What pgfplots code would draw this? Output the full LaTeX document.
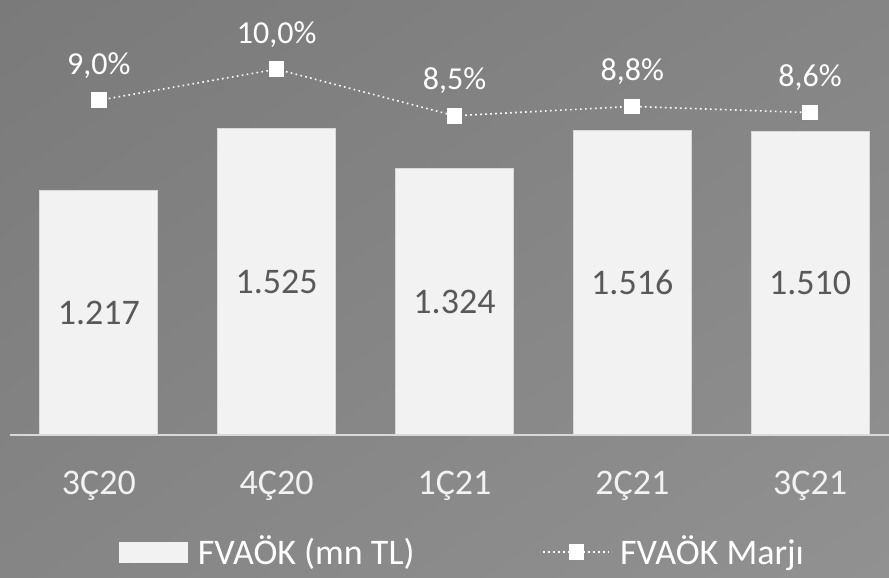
\documentclass[border=0pt]{standalone}
\usepackage{pgfplots}
\pgfplotsset{compat=1.18}
\usetikzlibrary{shadings}
\usepackage{fontspec}
\setmainfont{Carlito}
\definecolor{bgA}{HTML}{7A7A7A}
\definecolor{bgB}{HTML}{858585}
\definecolor{bgC}{HTML}{919191}
\definecolor{barc}{HTML}{F2F2F2}
\definecolor{bared}{HTML}{D9D9D9}
\definecolor{axisc}{HTML}{D9D9D9}
\definecolor{darklab}{HTML}{595959}
\definecolor{lightlab}{HTML}{F2F2F2}
\pgfplotsset{
  dotleg/.style={legend image code/.code={\draw[mark repeat=2, mark phase=2, ##1] plot coordinates {(0pt,0pt) (16.5pt,0pt) (33pt,0pt)};}},
  barleg/.style={legend image code/.code={\fill[barc] (0pt,-5pt) rectangle (34pt,5pt);}}
}
\begin{document}
\begin{tikzpicture}[x=1pt,y=1pt]
\shade[upper left=bgA, upper right=bgB, lower left=bgB, lower right=bgC] (0,0) rectangle (444.5,289);
\path[use as bounding box] (0,0) rectangle (444.5,289);
\begin{axis}[at={(5pt,71.5pt)}, anchor=south west, scale only axis,
  width=439.5pt, height=217.5pt,
  xmin=-0.5, xmax=4.444, ymin=0, ymax=2165,
  axis y line=none, axis x line*=bottom,
  x axis line style={draw=axisc, line width=1pt, -},
  xtick={0,1,2,3,4}, xticklabels={3Ç20,4Ç20,1Ç21,2Ç21,3Ç21},
  major tick length=0pt, ytick=\empty,
  xticklabel style={anchor=base, yshift=-30pt, font=\fontsize{18}{21}\selectfont, text=lightlab},
  clip=false]
\addplot[ybar, bar width=59pt, bar shift=0pt, fill=barc, draw=bared, line width=0.5pt,
  point meta=explicit symbolic,
  visualization depends on={y \as \rawy},
  nodes near coords,
  every node near coord/.append style={anchor=center, shift={(axis direction cs:0,-\rawy/2)}, font=\fontsize{18}{21}\selectfont, text=darklab}]
  table[x=x, y=y, meta=lab] {
x y lab
0 1217 1.217
1 1525 1.525
2 1324 1.324
3 1516 1.516
4 1510 1.510
};
\end{axis}
\begin{axis}[at={(5pt,71.5pt)}, anchor=south west, scale only axis,
  width=439.5pt, height=217.5pt,
  xmin=-0.5, xmax=4.444, ymin=-1.79, ymax=12.23,
  axis lines=none, clip=false,
  legend columns=2,
  legend style={draw=none, fill=none, text=white, font=\fontsize{18}{21}\selectfont,
    at={(0.516,-0.269)}, anchor=center,
    /tikz/column 1/.style={column sep=3pt},
    /tikz/column 2/.style={column sep=62pt},
    /tikz/column 3/.style={column sep=3pt}}]
\addlegendimage{barleg}
\addlegendentry{FVAÖK (mn TL)}
\addplot[white, line width=0.8pt, dash pattern=on 0.8pt off 1.7pt,
  mark=square*, mark size=3.5pt, mark options={solid, fill=white, draw=white},
  point meta=explicit symbolic, nodes near coords,
  every node near coord/.append style={anchor=base, yshift=13pt, font=\fontsize{16}{19}\selectfont, text=white},
  dotleg]
  coordinates {(0,9.0) [9,0\%] (1,10.0) [10,0\%] (2,8.5) [8,5\%] (3,8.8) [8,8\%] (4,8.6) [8,6\%]};
\addlegendentry{FVAÖK Marjı}
\end{axis}
\end{tikzpicture}
\end{document}
